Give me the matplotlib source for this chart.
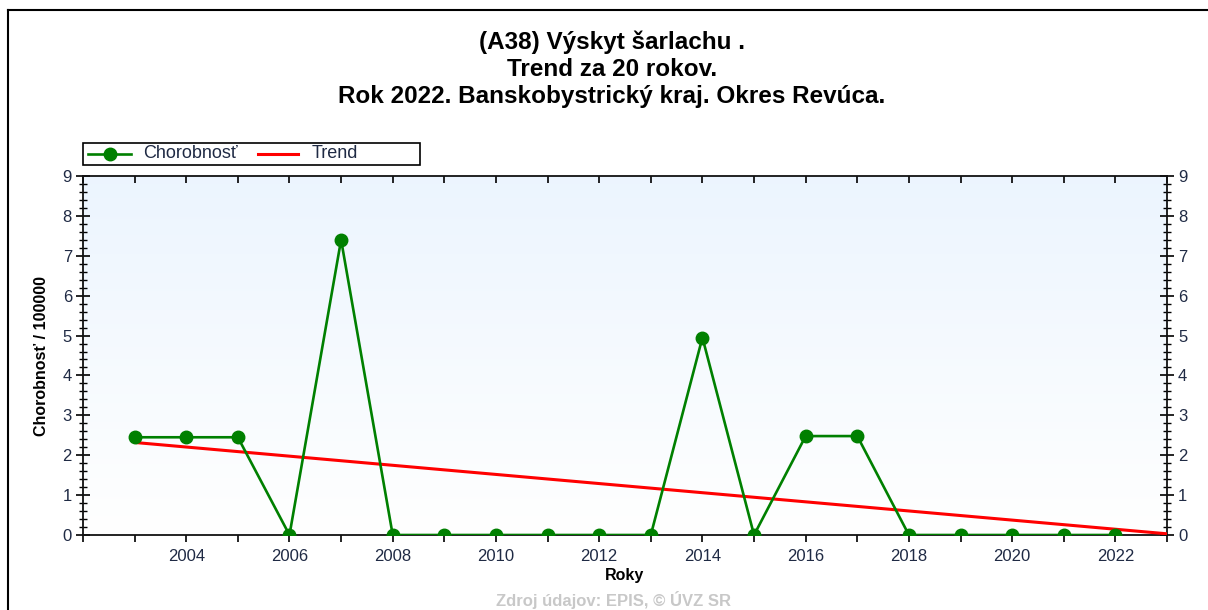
import numpy as np
import matplotlib.pyplot as plt
from matplotlib.lines import Line2D
from matplotlib.patches import Rectangle
from matplotlib.ticker import MultipleLocator

plt.rcParams['font.family'] = ['Liberation Sans', 'DejaVu Sans']

# Incidence per 100 000 inhabitants, 2003-2022
years = [2003, 2004, 2005, 2006, 2007, 2008, 2009, 2010, 2011, 2012,
         2013, 2014, 2015, 2016, 2017, 2018, 2019, 2020, 2021, 2022]
incidence = [2.45, 2.45, 2.45, 0.0, 7.40, 0.0, 0.0, 0.0, 0.0, 0.0,
             0.0, 4.95, 0.0, 2.48, 2.48, 0.0, 0.0, 0.0, 0.0, 0.0]

# Linear trend endpoints
trend_years = [2003, 2023]
trend_values = [2.32, 0.03]

x_ticks = [2004, 2006, 2008, 2010, 2012, 2014, 2016, 2018, 2020, 2022]
y_ticks = [0, 1, 2, 3, 4, 5, 6, 7, 8, 9]

title_lines = ["(A38) Výskyt šarlachu .",
               "Trend za 20 rokov.",
               "Rok 2022. Banskobystrický kraj. Okres Revúca."]

W, H = 1208, 610
fig = plt.figure(figsize=(W / 100, H / 100), dpi=100)
fig.patch.set_facecolor('white')


def fx(px):
    return px / W


def fy(py):
    return 1 - py / H


# outer frame (top and left edges)
fig.add_artist(Line2D([fx(8), 1.0], [fy(10), fy(10)], color='black', lw=1.5,
                      transform=fig.transFigure))
fig.add_artist(Line2D([fx(8), fx(8)], [0, fy(10)], color='black', lw=1.5,
                      transform=fig.transFigure))

left, right, top, bottom = 83, 1167, 176, 535
ax = fig.add_axes([fx(left), fy(bottom), (right - left) / W, (bottom - top) / H])

ax.set_xlim(2002, 2023)

# vertical gradient background: pale blue at the top fading to white
grad = np.linspace(0, 1, 256)[:, None, None]
top_c = np.array([0.925, 0.96, 0.997])
bot_c = np.array([1.0, 1.0, 1.0])
img = top_c[None, None, :] * (1 - grad) + bot_c[None, None, :] * grad
ax.imshow(img, extent=[2002, 2023, 0, 9], origin='upper', aspect='auto', zorder=0)
ax.set_ylim(0, 9)

green = '#008000'
red = '#ff0000'
ax.plot(trend_years, trend_values, color=red, lw=2.2, zorder=3)
ax.plot(years, incidence, color=green, lw=1.9, marker='o', markersize=9,
        zorder=4)

for s in ['left', 'bottom', 'top', 'right']:
    ax.spines[s].set_linewidth(1.3)
    ax.spines[s].set_color('#111111')

tick_color = '#1f2a44'
ax.set_xticks(range(2002, 2024))
ax.set_xticklabels([str(y) if y in x_ticks else '' for y in range(2002, 2024)])
ax.tick_params(axis='x', which='major', direction='out', length=5, width=1.2,
               labelsize=12, labelcolor=tick_color, top=True, pad=5)
# top ticks point inward
for t in ax.xaxis.get_major_ticks():
    t.tick2line.set_marker(3)
    t.tick2line.set_markersize(5)

ax.set_yticks(y_ticks)
ax.yaxis.set_minor_locator(MultipleLocator(0.2))
ax.tick_params(axis='y', which='major', direction='inout', length=10, width=1.2,
               labelsize=12, labelcolor=tick_color, right=True, labelright=True,
               pad=3)
ax.tick_params(axis='y', which='minor', direction='inout', length=6, width=1.0,
               right=True)

ax.set_xlabel('Roky', fontsize=11.5, fontweight='bold', labelpad=3)
ax.set_ylabel('Chorobnosť / 100000', fontsize=11.5, fontweight='bold', labelpad=10)

# title
for i, line in enumerate(title_lines):
    fig.text(fx(612), fy(42 + i * 27), line, ha='center', va='center',
             fontsize=17.5, fontweight='bold')

# legend box above the plot
fig.add_artist(Rectangle((fx(83), fy(165)), fx(420) - fx(83), fy(143) - fy(165),
                         transform=fig.transFigure, facecolor='white',
                         edgecolor='black', lw=1.2))
ly = fy(154)
fig.add_artist(Line2D([fx(88), fx(131)], [ly, ly], color=green, lw=1.9,
                      transform=fig.transFigure))
fig.add_artist(Line2D([fx(109.5)], [ly], color=green, marker='o', markersize=9,
                      transform=fig.transFigure))
fig.text(fx(143), ly, 'Chorobnosť', ha='left', va='center', fontsize=13,
         color=tick_color)
fig.add_artist(Line2D([fx(258), fx(298)], [ly, ly], color=red, lw=2.2,
                      transform=fig.transFigure))
fig.text(fx(312), ly, 'Trend', ha='left', va='center', fontsize=13,
         color=tick_color)

# source note
fig.text(fx(613), fy(609), 'Zdroj údajov: EPIS, © ÚVZ SR', ha='center',
         va='bottom', fontsize=12, fontweight='bold', color='#c8c8c8')

fig.savefig('out.png', dpi=100)
